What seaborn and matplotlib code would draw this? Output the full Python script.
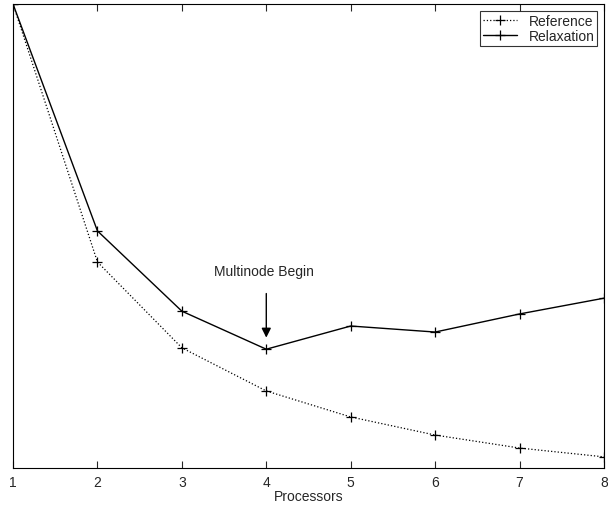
import numpy as np
import pandas as pd
import matplotlib
matplotlib.use('Agg')
import matplotlib.pyplot as plt
import seaborn as sns

processors = [1, 2, 3, 4, 5, 6, 7, 8]
reference = [100, 44.4, 25.9, 16.6, 11.0, 7.1, 4.3, 2.4]
relaxation = [100, 51.1, 33.8, 25.6, 30.6, 29.3, 33.2, 36.6]

sns.set_style('white')
plt.rcParams['font.family'] = ['Liberation Sans', 'DejaVu Sans']

fig = plt.figure(figsize=(6.08, 5.06), dpi=100)
ax = fig.add_axes([13 / 608, 1 - 469 / 506, 591 / 608, 464 / 506])

sns.lineplot(x=processors, y=reference, ax=ax, color='black', linestyle=':',
             linewidth=0.9, marker='+', markersize=7, markeredgewidth=0.9,
             markeredgecolor='black', label='Reference')
sns.lineplot(x=processors, y=relaxation, ax=ax, color='black', linestyle='-',
             linewidth=1.0, marker='+', markersize=7, markeredgewidth=0.9,
             markeredgecolor='black', label='Relaxation')

ax.set_xlim(1, 8)
ax.set_ylim(0, 100)
ax.set_xticks(processors)
ax.set_yticks([])
ax.tick_params(axis='x', direction='in', length=5, labelsize=10, pad=5,
               top=True, bottom=True)
for s in ax.spines.values():
    s.set_color('black')
    s.set_linewidth(0.8)

ax.annotate('', xy=(4, 27.5), xytext=(4, 38.2),
            arrowprops=dict(arrowstyle='-|>', color='black', lw=1,
                            mutation_scale=14))
ax.text(3.97, 42.5, 'Multinode Begin', ha='center', va='center', fontsize=10)

ax.set_xlabel('Processors', fontsize=10, labelpad=0)

leg = ax.legend(loc='upper right', fontsize=10, frameon=True, fancybox=False,
                handlelength=2.5, borderpad=0.2, labelspacing=0.1,
                borderaxespad=0.5)
leg.get_frame().set_edgecolor('black')
leg.get_frame().set_linewidth(0.8)

fig.savefig('out.png', dpi=100)
